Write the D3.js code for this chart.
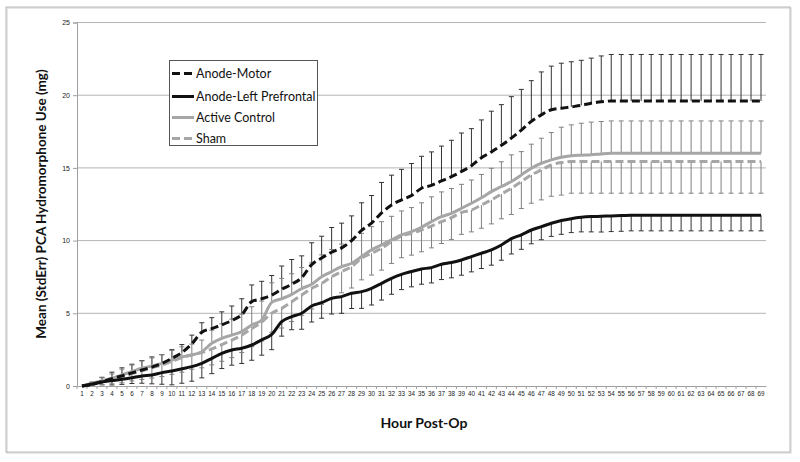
<!DOCTYPE html>
<html><head><meta charset="utf-8">
<script src="https://cdn.jsdelivr.net/npm/d3@7"></script>
<style>body{margin:0;background:#fff}svg{display:block}</style>
</head><body><svg id="c" width="800" height="462"></svg>
<script>
const hours = d3.range(1, 70).map(String);
const yTicks = [0, 5, 10, 15, 20, 25];
const seriesNames = ["Anode-Motor", "Anode-Left Prefrontal", "Active Control", "Sham"];

const motor = [0,0.1,0.3,0.5,0.7,0.9,1.1,1.3,1.55,1.9,2.3,2.9,3.7,3.95,4.2,4.5,4.9,5.8,6.0,6.25,
  6.65,7.0,7.45,8.35,8.8,9.2,9.5,10.0,10.7,11.2,11.9,12.45,12.8,13.1,13.6,13.8,14.1,14.4,14.75,15.15,
  15.7,16.1,16.55,17.05,17.6,18.2,18.65,19.0,19.1,19.2,19.3,19.45,19.55,19.6,19.6,19.6,19.6,19.6,19.6,19.6,
  19.6,19.6,19.6,19.6,19.6,19.6,19.6,19.6,19.6];
const motorErr = [0,0.15,0.3,0.45,0.55,0.6,0.65,0.7,0.6,0.6,0.55,0.6,0.65,0.75,0.9,1.0,1.1,1.15,1.2,1.35,
  1.6,1.7,1.5,1.5,1.5,1.7,1.7,1.7,1.9,1.9,2.1,2.05,2.1,2.2,2.2,2.3,2.4,2.5,2.65,2.55,
  2.6,2.8,2.8,2.85,2.8,2.8,2.95,3.0,3.1,3.1,3.1,3.1,3.15,3.2,3.2,3.2,3.2,3.2,3.2,3.2,
  3.2,3.2,3.2,3.2,3.2,3.2,3.2,3.2,3.2];

const leftPF = [0,0.14,0.28,0.37,0.46,0.57,0.69,0.75,0.92,1.03,1.19,1.33,1.56,1.9,2.25,2.48,2.6,2.82,3.17,3.55,
  4.43,4.77,5.0,5.5,5.73,6.03,6.15,6.38,6.49,6.72,7.06,7.41,7.68,7.87,8.05,8.14,8.37,8.49,8.67,8.9,
  9.13,9.36,9.7,10.13,10.4,10.73,10.96,11.19,11.38,11.51,11.6,11.65,11.67,11.7,11.72,11.75,11.75,11.75,11.75,11.75,
  11.75,11.75,11.75,11.75,11.75,11.75,11.75,11.75,11.75];
const leftPFErr = [0,0.1,0.2,0.3,0.35,0.4,0.5,0.6,0.8,0.95,1.0,1.0,1.0,1.05,1.05,1.05,1.05,1.05,1.05,1.05,
  1.0,0.9,1.1,1.1,1.07,1.08,1.15,1.05,1.15,1.15,1.15,1.1,1.05,1.05,1.05,1.05,1.05,1.05,1.05,1.05,
  1.05,1.05,1.05,1.05,1.0,0.95,0.9,0.9,0.95,0.96,1.0,1.05,1.08,1.08,1.08,1.08,1.08,1.08,1.08,1.08,
  1.08,1.08,1.08,1.08,1.08,1.08,1.08,1.08,1.08];

const active = [0,0.18,0.37,0.53,0.76,0.99,1.22,1.38,1.56,1.79,2.0,2.13,2.36,2.94,3.28,3.5,3.74,4.2,4.54,5.75,
  6.0,6.3,6.7,7.0,7.52,7.87,8.21,8.44,8.9,9.36,9.7,10.05,10.39,10.62,10.92,11.31,11.65,11.88,12.22,12.57,
  12.95,13.37,13.72,14.06,14.52,14.98,15.32,15.55,15.73,15.83,15.87,15.9,15.96,16.0,16.0,16.0,16.0,16.0,16.0,16.0,
  16.0,16.0,16.0,16.0,16.0,16.0,16.0,16.0,16.0];
const activeErr = [0,0.1,0.2,0.3,0.4,0.45,0.5,0.55,0.6,0.65,0.7,0.75,0.8,0.9,1.0,1.1,1.2,1.25,1.3,1.35,
  1.4,1.42,1.45,1.47,1.5,1.52,1.55,1.57,1.6,1.6,1.6,1.62,1.65,1.65,1.68,1.7,1.7,1.7,1.65,1.6,
  1.6,1.6,1.7,1.84,1.6,1.65,1.72,1.88,2.07,2.13,2.2,2.25,2.23,2.23,2.23,2.23,2.23,2.23,2.23,2.23,
  2.23,2.23,2.23,2.23,2.23,2.23,2.23,2.23,2.23];

const sham = [0,0.15,0.3,0.45,0.62,0.85,1.05,1.25,1.45,1.7,1.95,2.15,2.3,2.55,2.85,3.15,3.5,3.95,4.4,5.0,
  5.34,5.8,6.26,6.72,7.06,7.52,7.87,8.21,8.78,9.13,9.47,9.93,10.32,10.5,10.73,11.0,11.3,11.58,11.93,12.1,
  12.45,12.8,13.2,13.6,14.06,14.52,14.86,15.2,15.37,15.44,15.44,15.44,15.44,15.44,15.44,15.44,15.44,15.44,15.44,15.44,
  15.44,15.44,15.44,15.44,15.44,15.44,15.44,15.44,15.44];
const shamErr = [0,0.1,0.2,0.3,0.4,0.5,0.6,0.7,0.8,0.9,1.0,1.0,1.05,1.1,1.15,1.2,1.2,1.25,1.3,1.3,
  1.35,1.37,1.4,1.42,1.44,1.45,1.46,1.47,1.48,1.5,1.5,1.5,1.5,1.5,1.5,1.5,1.5,1.5,1.5,1.5,
  1.6,1.65,1.7,1.8,1.85,1.95,2.06,2.15,2.24,2.18,2.18,2.18,2.18,2.18,2.18,2.18,2.18,2.18,2.18,2.18,
  2.18,2.18,2.18,2.18,2.18,2.18,2.18,2.18,2.18];

const series = [
  {name: seriesNames[0], vals: motor, err: motorErr, dir: 1, color: "#111", dash: "8,4", barColor: "#333"},
  {name: seriesNames[1], vals: leftPF, err: leftPFErr, dir: -1, color: "#111", dash: null, barColor: "#333"},
  {name: seriesNames[2], vals: active, err: activeErr, dir: 1, color: "#a6a6a6", dash: null, barColor: "#808080"},
  {name: seriesNames[3], vals: sham, err: shamErr, dir: -1, color: "#a6a6a6", dash: "8,4", barColor: "#808080"}
];

const svg = d3.select("#c");
// outer frame
svg.append("rect").attr("x", 7).attr("y", 8).attr("width", 784).attr("height", 445)
  .attr("fill", "none").attr("stroke", "#e0e0e0").attr("stroke-width", 1.5);
svg.append("rect").attr("x", 6).attr("y", 7).attr("width", 784).attr("height", 445)
  .attr("fill", "none").attr("stroke", "#b8b8b8").attr("stroke-width", 1);

const pLeft = 77, pRight = 766, pTop = 22.5, pBottom = 386;
const x = d3.scaleBand().domain(hours).range([pLeft, pRight]).padding(0);
const y = d3.scaleLinear().domain([0, 25]).range([pBottom, pTop]);
const cx = h => x(h) + x.bandwidth() / 2;

// gridlines
svg.append("g").selectAll("line").data(yTicks.filter(t => t > 0)).join("line")
  .attr("x1", pLeft).attr("x2", pRight).attr("y1", d => y(d)).attr("y2", d => y(d))
  .attr("stroke", "#b4b4b4").attr("stroke-width", 1);

// y axis
const yAxis = svg.append("g").attr("transform", `translate(${pLeft},0)`)
  .call(d3.axisLeft(y).tickValues(yTicks).tickSize(4).tickPadding(3));
yAxis.select(".domain").attr("stroke", "#a0a0a0");
yAxis.selectAll(".tick line").attr("stroke", "#a0a0a0");
yAxis.selectAll("text").attr("font-family", "'Liberation Sans', Arial, sans-serif").attr("font-size", 7).attr("fill", "#222");

// x axis
const xAxis = svg.append("g").attr("transform", `translate(0,${pBottom})`)
  .call(d3.axisBottom(x).tickSize(0).tickPadding(6));
xAxis.select(".domain").attr("stroke", "#a0a0a0");
xAxis.selectAll("text").attr("font-family", "'Liberation Sans', Arial, sans-serif").attr("font-size", 6.3).attr("fill", "#222");
svg.append("g").selectAll("line").data(hours).join("line")
  .attr("x1", d => x(d)).attr("x2", d => x(d)).attr("y1", pBottom).attr("y2", pBottom + 3)
  .attr("stroke", "#a0a0a0");

// error bars
series.forEach(s => {
  const g = svg.append("g").attr("stroke", s.barColor).attr("stroke-width", 1);
  hours.forEach((h, i) => {
    if (s.err[i] <= 0) return;
    const y0 = y(s.vals[i]), y1 = y(s.vals[i] + s.dir * s.err[i]);
    g.append("line").attr("x1", cx(h)).attr("x2", cx(h)).attr("y1", y0).attr("y2", y1);
    g.append("line").attr("x1", cx(h) - 2.5).attr("x2", cx(h) + 2.5).attr("y1", y1).attr("y2", y1);
  });
});

// lines
const line = d3.line().x((d, i) => cx(hours[i])).y(d => y(d)).curve(d3.curveMonotoneX);
[series[2], series[3], series[1], series[0]].forEach(s => {
  svg.append("path").datum(s.vals).attr("d", line).attr("fill", "none")
    .attr("stroke", s.color).attr("stroke-width", 3)
    .attr("stroke-dasharray", s.dash);
});

// axis titles
svg.append("text").attr("transform", "translate(46,204) rotate(-90)")
  .attr("text-anchor", "middle").attr("font-family", "Lato, 'Open Sans', sans-serif")
  .attr("font-weight", "bold").attr("font-size", 13.5).attr("fill", "#111")
  .text("Mean (StdErr) PCA Hydromorphone Use (mg)");
svg.append("text").attr("x", 424).attr("y", 428).attr("text-anchor", "middle")
  .attr("font-family", "Lato, 'Open Sans', sans-serif").attr("font-weight", "bold")
  .attr("font-size", 14).attr("fill", "#111").text("Hour Post-Op");

// legend
const lg = svg.append("g");
lg.append("rect").attr("x", 169.5).attr("y", 60.5).attr("width", 148).attr("height", 85)
  .attr("fill", "#fff").attr("stroke", "#555").attr("stroke-width", 1);
const legY = [73.5, 96.5, 117.5, 138.5];
series.forEach((s, i) => {
  lg.append("line").attr("x1", 172).attr("x2", 194).attr("y1", legY[i]).attr("y2", legY[i])
    .attr("stroke", s.color).attr("stroke-width", 3).attr("stroke-dasharray", s.dash);
  lg.append("text").attr("x", 196).attr("y", legY[i]).attr("dy", "0.35em")
    .attr("font-family", "Lato, 'Open Sans', sans-serif").attr("font-size", 12.5).attr("fill", "#111")
    .text(s.name);
});
</script></body></html>
